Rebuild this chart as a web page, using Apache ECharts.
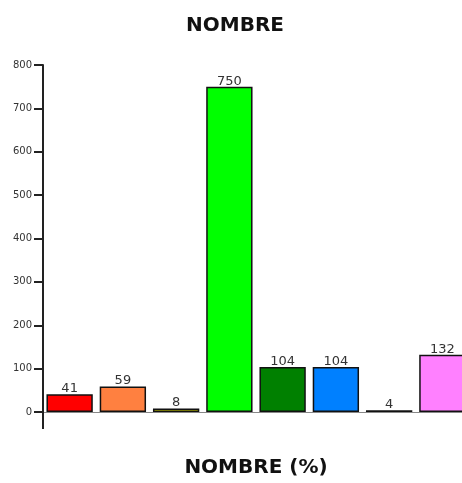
<!DOCTYPE html>
<html><head><meta charset="utf-8">
<script src="https://cdn.jsdelivr.net/npm/echarts@6/dist/echarts.min.js"></script>
<style>html,body{margin:0;padding:0;background:#fff;overflow:hidden}#w{width:462px;height:483px;overflow:hidden;position:relative}#c{width:470px;height:483px}</style>
</head><body><div id="w"><div id="c"></div></div>
<script>
const categories = ['A','B','C','D','E','F','G','H'];
const values = [41, 59, 8, 750, 104, 104, 4, 132];
const colors = ['#ff0000','#ff8040','#d8d800','#00ff00','#008000','#0080ff','#000000','#ff80ff'];
const yTicks = [0,100,200,300,400,500,600,700,800];

const chart = echarts.init(document.getElementById('c'));
chart.setOption({
  animation: false,
  title: { text: 'NOMBRE', left: 'center', top: 11,
    textStyle: { fontFamily: 'DejaVu Sans', fontSize: 20, fontWeight: 'bold', color: '#111' } },
  grid: { left: 43, top: 65, right: 1, bottom: 66, containLabel: false },
  xAxis: {
    type: 'category', data: categories,
    name: 'NOMBRE (%)', nameLocation: 'middle', nameGap: 46,
    nameTextStyle: { fontFamily: 'DejaVu Sans', fontSize: 20, fontWeight: 'bold', color: '#111' },
    axisLine: { lineStyle: { color: '#888', width: 1 } },
    axisTick: { show: true, length: 17, interval: function(i){ return i === 0; }, lineStyle: { color: '#222', width: 2 } },
    axisLabel: { show: false }
  },
  yAxis: {
    type: 'value', min: 0, max: 800, interval: 100,
    splitLine: { show: false },
    axisLine: { show: true, lineStyle: { color: '#222', width: 2 } },
    axisTick: { show: true, length: 9, lineStyle: { color: '#222', width: 2 } },
    axisLabel: { margin: 11, fontFamily: 'DejaVu Sans', fontSize: 10, color: '#333',
      formatter: function(v){ return yTicks.indexOf(v) >= 0 ? String(v) : ''; } }
  },
  series: [{
    type: 'bar', data: values.map((v,i)=>({ value: v, itemStyle: { color: colors[i] } })),
    barCategoryGap: '13%',
    itemStyle: { borderColor: '#111', borderWidth: 1.5 },
    label: { show: true, position: 'top', distance: -1,
      fontFamily: 'DejaVu Sans', fontSize: 13, color: '#333' }
  }]
});
</script></body></html>
